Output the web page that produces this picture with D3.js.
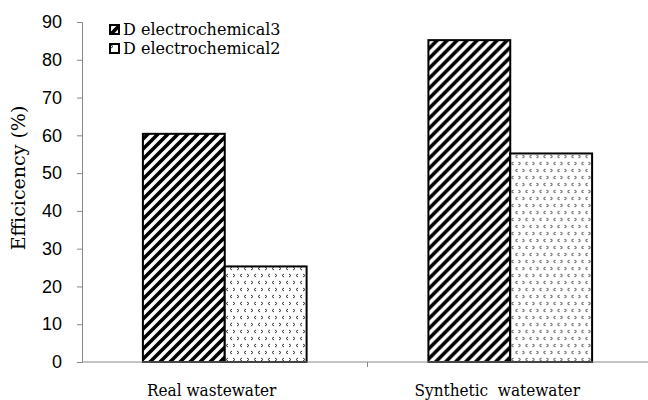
<!DOCTYPE html>
<html>
<head>
<meta charset="utf-8">
<script src="https://cdn.jsdelivr.net/npm/d3@7"></script>
<style>
  body { margin: 0; background: #fff; }
  svg { display: block; }
</style>
</head>
<body>
<div id="chart"></div>
<script>
// Data
const categories = ["Real wastewater", "Synthetic  watewater"];
const series = ["D electrochemical3", "D electrochemical2"];
const electro3 = [60.4, 85.2];
const electro2 = [25.3, 55.2];
const yTicks = [0, 10, 20, 30, 40, 50, 60, 70, 80, 90];

const width = 648, height = 400;
const margin = { top: 22, right: -5, bottom: 38, left: 82 };

const svg = d3.select("#chart").append("svg")
  .attr("width", width)
  .attr("height", height);

// Fill patterns: diagonal hatch and little chevron dots
const defs = svg.append("defs");
const hatch = defs.append("pattern")
  .attr("id", "hatch")
  .attr("patternUnits", "userSpaceOnUse")
  .attr("width", 10)
  .attr("height", 10);
hatch.append("rect").attr("width", 10).attr("height", 10).attr("fill", "#fff");
hatch.append("path")
  .attr("d", "M-2,2 L2,-2 M0,10 L10,0 M8,12 L12,8")
  .attr("stroke", "#000")
  .attr("stroke-width", 3.6);

const dots = defs.append("pattern")
  .attr("id", "dots")
  .attr("patternUnits", "userSpaceOnUse")
  .attr("width", 14)
  .attr("height", 14);
dots.append("rect").attr("width", 14).attr("height", 14).attr("fill", "#fff");
dots.append("path")
  .attr("d", "M1,1 L3,2.5 L1,4 M10,1 L8,2.5 L10,4 M6,8 L4,9.5 L6,11 M11,8 L13,9.5 L11,11")
  .attr("fill", "none")
  .attr("stroke", "#333")
  .attr("stroke-width", 1);

const patterns = { "D electrochemical3": "url(#hatch)", "D electrochemical2": "url(#dots)" };

// Scales
const x0 = d3.scaleBand()
  .domain(categories)
  .range([margin.left, width - margin.right])
  .padding(0);

const x1 = d3.scaleBand()
  .domain(series)
  .range([0, x0.bandwidth()])
  .paddingInner(0)
  .paddingOuter(0.744);

const y = d3.scaleLinear()
  .domain([0, 90])
  .range([height - margin.bottom, margin.top]);

const rows = categories.map((c, i) => ({
  category: c,
  values: [
    { key: series[0], value: electro3[i] },
    { key: series[1], value: electro2[i] }
  ]
}));

// Bars
const groups = svg.append("g").selectAll("g")
  .data(rows)
  .join("g")
  .attr("transform", d => `translate(${x0(d.category)},0)`);

groups.selectAll("rect")
  .data(d => d.values)
  .join("rect")
  .attr("x", d => x1(d.key))
  .attr("y", d => y(d.value))
  .attr("width", x1.bandwidth())
  .attr("height", d => y(0) - y(d.value))
  .attr("fill", d => patterns[d.key])
  .attr("stroke", "#000")
  .attr("stroke-width", 2);

// Y axis
const yAxis = svg.append("g")
  .attr("transform", `translate(${margin.left},0)`)
  .call(d3.axisLeft(y).tickValues(yTicks).tickSize(5).tickPadding(15));
yAxis.select(".domain").attr("stroke", "#888");
yAxis.selectAll(".tick line").attr("stroke", "#888");
yAxis.selectAll(".tick text")
  .style("font-family", "'Liberation Sans', Arial, sans-serif")
  .style("font-size", "18px")
  .attr("fill", "#000");

// X axis: line with a divider tick between the categories
const xAxisG = svg.append("g");
xAxisG.append("line")
  .attr("x1", margin.left)
  .attr("x2", width)
  .attr("y1", y(0))
  .attr("y2", y(0))
  .attr("stroke", "#888");
xAxisG.selectAll(".divider")
  .data(categories.slice(1))
  .join("line")
  .attr("x1", d => x0(d))
  .attr("x2", d => x0(d))
  .attr("y1", y(0))
  .attr("y2", y(0) + 5)
  .attr("stroke", "#888");

xAxisG.selectAll(".xlabel")
  .data(categories)
  .join("text")
  .attr("x", d => x0(d) + x0.bandwidth() / 2 - 13)
  .attr("y", 396)
  .attr("text-anchor", "middle")
  .style("white-space", "pre")
  .style("font-family", "'DejaVu Serif', serif")
  .style("font-stretch", "condensed")
  .style("font-size", "17px")
  .text(d => d);

// Y axis title
svg.append("text")
  .attr("transform", "translate(25,178) rotate(-90)")
  .attr("text-anchor", "middle")
  .style("font-family", "'DejaVu Serif', serif")
  .style("font-size", "19px")
  .text("Efficicency (%)");

// Legend
const legend = svg.append("g")
  .attr("transform", "translate(110,25)")
  .selectAll("g")
  .data(series)
  .join("g")
  .attr("transform", (d, i) => `translate(0,${i * 19})`);

legend.append("rect")
  .attr("width", 9)
  .attr("height", 9)
  .attr("fill", d => patterns[d])
  .attr("stroke", "#000")
  .attr("stroke-width", 2);

legend.append("text")
  .attr("x", 13)
  .attr("y", 10)
  .style("font-family", "'DejaVu Serif', serif")
  .style("font-size", "16px")
  .text(d => d);
</script>
</body>
</html>
